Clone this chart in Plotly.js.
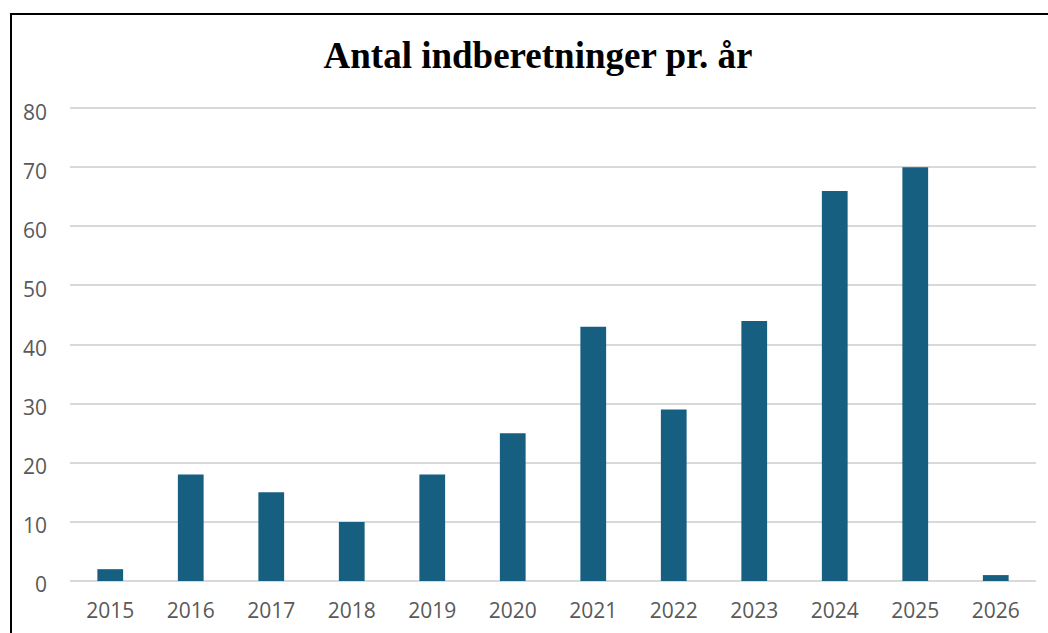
<!DOCTYPE html>
<html>
<head>
<meta charset="utf-8">
<script src="https://cdn.plot.ly/plotly-3.0.1.min.js"></script>
<style>
  html, body { margin: 0; padding: 0; background: #fff; overflow: hidden; }
  #chart { position: absolute; left: 0; top: 0; width: 1048px; height: 633px; }
  #frame { position: absolute; left: 10px; top: 13px; width: 1100px; height: 700px;
           border-left: 2px solid #000; border-top: 2px solid #000; pointer-events: none; }
</style>
</head>
<body>
<div id="chart"></div>
<div id="frame"></div>
<script>
const years = ["2015","2016","2017","2018","2019","2020","2021","2022","2023","2024","2025","2026"];
const counts = [2, 18, 15, 10, 18, 25, 43, 29, 44, 66, 70, 1];
const yTicks = [0, 10, 20, 30, 40, 50, 60, 70, 80];
const chartTitle = "Antal indberetninger pr. år";

const trace = {
  type: "bar",
  x: years,
  y: counts,
  marker: { color: "#175f80" },
  width: 0.32,
  hoverinfo: "x+y"
};

const layout = {
  width: 1048,
  height: 633,
  margin: { l: 70, r: 12, t: 107, b: 52 },
  paper_bgcolor: "#ffffff",
  plot_bgcolor: "#ffffff",
  showlegend: false,
  title: {
    text: "<b>" + chartTitle + "</b>",
    font: { family: "Liberation Serif, Times New Roman, serif", size: 37, color: "#000000" },
    xref: "container", x: 538 / 1048, xanchor: "center",
    yref: "container", y: 1 - 55 / 633, yanchor: "middle"
  },
  xaxis: {
    type: "category",
    showgrid: false,
    showline: false,
    zeroline: false,
    ticks: "",
    tickfont: { family: "Open Sans, sans-serif", size: 21, color: "#595959" },
    ticklabelstandoff: 15
  },
  yaxis: {
    range: [0, 80.2],
    tickvals: yTicks,
    showgrid: true,
    gridcolor: "#d9d9d9",
    gridwidth: 2,
    zeroline: true,
    zerolinecolor: "#d9d9d9",
    zerolinewidth: 2,
    showline: false,
    ticks: "",
    tickfont: { family: "Open Sans, sans-serif", size: 21, color: "#595959" },
    ticklabelstandoff: 22,
    ticklabelshift: 4
  }
};

Plotly.newPlot("chart", [trace], layout, { displayModeBar: false, staticPlot: true });
</script>
</body>
</html>
